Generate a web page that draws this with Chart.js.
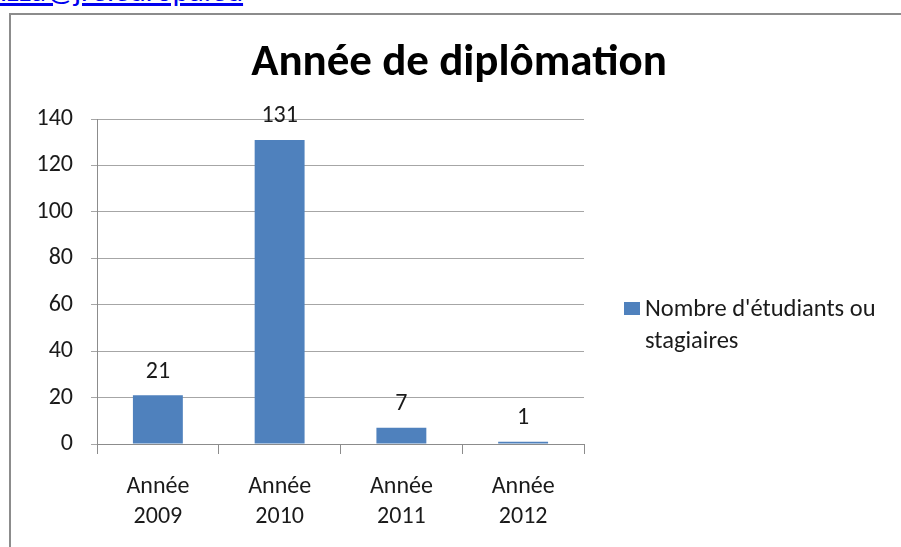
<!DOCTYPE html>
<html><head><meta charset="utf-8">
<script src="https://cdn.jsdelivr.net/npm/chart.js@4"></script>
<style>
html,body{margin:0;padding:0;background:#fff;overflow:hidden;width:901px;height:547px;}
#link{position:absolute;left:0;top:-25px;font:31px/31px Carlito, Lato, sans-serif;color:#0000ee;text-decoration:underline;white-space:nowrap;}
#frame{position:absolute;left:9px;top:13px;width:1000px;height:1000px;border:2px solid #8c8c8c;box-sizing:border-box;}
#wrap{position:absolute;left:0;top:0;width:901px;height:547px;}
</style></head><body>
<div id="link">izza@jreleuropa.eu</div>
<div id="frame"></div>
<div id="wrap"><canvas id="c" width="901" height="547"></canvas></div>
<script>
const categories = [['Année','2009'],['Année','2010'],['Année','2011'],['Année','2012']];
const seriesName = ["Nombre d'étudiants ou", 'stagiaires'];
const values = [21, 131, 7, 1];
const yTicks = [0, 20, 40, 60, 80, 100, 120, 140];
const chartTitle = 'Année de diplômation';

const FONT = 'Carlito, Lato, sans-serif';
const BAR = '#4F81BD';
const TEXT = '#1a1a1a';
const GRID = '#a6a6a6';
const AXIS = '#8c8c8c';

const titleText = {
  id: 'titleText',
  afterDraw(chart) {
    const ctx = chart.ctx;
    ctx.save();
    ctx.font = 'bold 45px ' + FONT;
    ctx.fillStyle = '#000';
    ctx.textAlign = 'center';
    ctx.textBaseline = 'alphabetic';
    ctx.fillText(chartTitle, 459, 75);
    ctx.restore();
  }
};

const valueLabels = {
  id: 'valueLabels',
  afterDatasetsDraw(chart) {
    const ctx = chart.ctx;
    const meta = chart.getDatasetMeta(0);
    ctx.save();
    ctx.font = '24px ' + FONT;
    ctx.fillStyle = TEXT;
    ctx.textAlign = 'center';
    ctx.textBaseline = 'alphabetic';
    meta.data.forEach((bar, i) => {
      ctx.fillText(String(chart.data.datasets[0].data[i]), bar.x, bar.y - 17.5);
    });
    ctx.restore();
  }
};

const sideLegend = {
  id: 'sideLegend',
  afterDraw(chart) {
    const ctx = chart.ctx;
    const ds = chart.data.datasets[0];
    const lines = ds.legendLines;
    const x0 = chart.chartArea.right + 40;
    ctx.save();
    ctx.fillStyle = ds.backgroundColor;
    ctx.fillRect(x0, 302, 16, 13);
    ctx.font = '24.5px ' + FONT;
    ctx.fillStyle = TEXT;
    ctx.textAlign = 'left';
    ctx.textBaseline = 'alphabetic';
    lines.forEach((t, i) => ctx.fillText(t, x0 + 21, 316 + i * 32));
    ctx.restore();
  }
};

new Chart(document.getElementById('c'), {
  type: 'bar',
  data: {
    labels: categories,
    datasets: [{
      label: seriesName.join(' '),
      legendLines: seriesName,
      data: values,
      backgroundColor: BAR,
      borderWidth: 0,
      barPercentage: 0.41,
      categoryPercentage: 1.0
    }]
  },
  options: {
    responsive: false,
    animation: false,
    devicePixelRatio: 1,
    layout: { padding: { left: 0, right: 317, top: 119, bottom: 0 } },
    plugins: {
      legend: { display: false },
      tooltip: { enabled: false },
      title: { display: false }
    },
    scales: {
      x: {
        type: 'category',
        offset: true,
        grid: { offset: true, drawOnChartArea: false, drawTicks: true, tickLength: 10, color: AXIS, lineWidth: 1 },
        border: { display: true, color: AXIS, width: 1 },
        ticks: { color: TEXT, font: { family: FONT, size: 24, lineHeight: 30 / 24 }, padding: 18, maxRotation: 0, autoSkip: false },
        afterFit(s) { s.height = 547 - 444; }
      },
      y: {
        min: 0, max: 140,
        afterBuildTicks(s) { s.ticks = yTicks.map(v => ({ value: v })); },
        grid: { color: GRID, lineWidth: 1, drawTicks: true, tickLength: 6 },
        border: { display: true, color: AXIS, width: 1 },
        ticks: { color: TEXT, font: { family: FONT, size: 24 }, padding: 18 },
        afterFit(s) { s.width = 97; }
      }
    }
  },
  plugins: [titleText, valueLabels, sideLegend]
});
</script>
</body></html>
